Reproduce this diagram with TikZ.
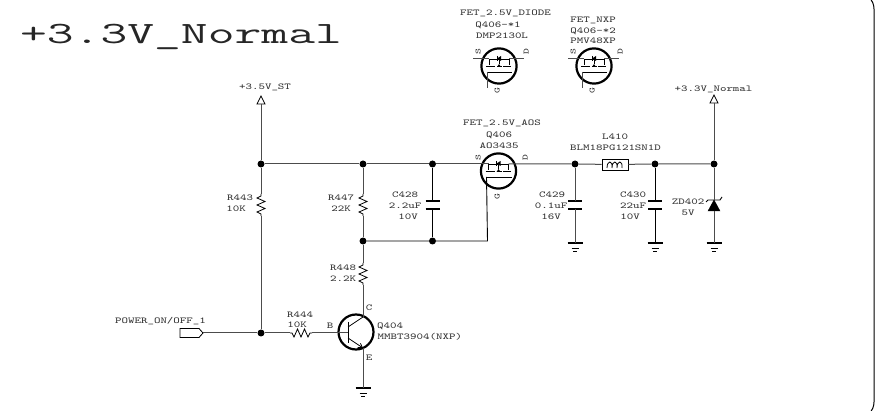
\documentclass[tikz,border=0pt]{standalone}
\usepackage{fontspec}
\newfontfamily\smallface[FakeStretch=1.375]{Latin Modern Mono}
\newfontfamily\titleface[FakeStretch=1.68]{Latin Modern Mono}
\usetikzlibrary{arrows.meta}
\definecolor{wire}{gray}{0.3}
\definecolor{txt}{gray}{0.2}
\tikzset{
  x=1pt,y=-1pt,
  wirel/.style={draw=wire,line width=1pt},
  wireb/.style={draw=black,line width=0.9pt},
  lbl/.style={font=\smallface\fontsize{9}{9}\selectfont,text=txt,inner sep=0pt,text height=5.4pt,text depth=0pt},
  pinl/.style={font=\smallface\fontsize{8}{8}\selectfont,text=txt,inner sep=0pt,text height=5pt,text depth=0pt},
  jct/.style={circle,fill=black,draw=none,inner sep=0pt,minimum size=7pt},
  plate/.style={line width=1.7pt,draw=black},
  resv/.pic={
    \draw[line width=0.8pt,black] (0,-11)--(0,-9)--(-4,-7)--(4,-3.5)--(-4,0)--(4,3.5)--(-4,7)--(0,9)--(0,11);
    \coordinate (-a) at (0,-11); \coordinate (-b) at (0,11);
  },
  resh/.pic={
    \draw[line width=0.8pt,black] (-11,0)--(-9,0)--(-7,4)--(-3.5,-4)--(0,4)--(3.5,-4)--(7,4)--(9,0)--(11,0);
    \coordinate (-a) at (-11,0); \coordinate (-b) at (11,0);
  },
  capv/.pic={
    \draw[plate] (-7,-4)--(7,-4);
    \draw[plate] (-7,4)--(7,4);
    \coordinate (-a) at (0,-4); \coordinate (-b) at (0,4);
  },
  gndp/.pic={
    \draw[line width=1.4pt,black] (-7.5,0)--(7.5,0);
    \draw[line width=0.7pt,black] (-3.5,5)--(3.5,5);
    \draw[line width=0.7pt,black] (-2,8)--(2,8);
    \coordinate (-t) at (0,0);
  },
  fetp/.pic={
    \draw[line width=2.2pt,black] (0,0) circle[radius=17.6];
    \draw[line width=0.7pt,black] (-10,-7)--(-10,-1) (-13,0)--(-4,0) (-2,0)--(3,0) (4,0)--(12,0) (10,-7)--(10,-1) (0,-7)--(0,-2);
    \draw[line width=0.8pt,black] (-12,6)--(13,6);
    \draw[line width=0.7pt,black] (-10,-7)--(10,-7);
    \fill[black] (0,-2)--(-2,1)--(2,1)--cycle;
    \fill[black] (2,-10)--(2,-5)--(-2,-7.5)--cycle;
    \draw[line width=0.9pt,black] (-2,-10)--(-2,-5);
    \coordinate (-s) at (-10,-7); \coordinate (-d) at (10,-7); \coordinate (-g) at (-12,6);
  },
  supplyp/.pic={
    \draw[line width=0.8pt,black,fill=white] (0,0)--(4,8)--(-4,8)--cycle;
    \coordinate (-b) at (0,8);
  }
}
\begin{document}
\begin{tikzpicture}
\useasboundingbox (0,0) rectangle (875,411);
\draw[black,line width=1pt,rounded corners=16pt] (-30,-7) rectangle (874,418);

% title
\node[font=\titleface\fontsize{31}{31}\selectfont,text=black!85,inner sep=0pt,anchor=base] (title) at (181,44) {+3.3V\_Normal};

% top alternates
\pic (qa) at (499,66) {fetp};
\pic (qb) at (594,66) {fetp};
\coordinate (qasl) at (473,59); \coordinate (qadr) at (524,59); \coordinate (qagb) at (487,88);
\coordinate (qbsl) at (568,59); \coordinate (qbdr) at (619,59); \coordinate (qbgb) at (582,88);
\draw[wirel] (qasl)--(qa-s) (qa-d)--(qadr) (qa-g)--(qagb);
\draw[wirel] (qbsl)--(qb-s) (qb-d)--(qbdr) (qb-g)--(qbgb);
\node[lbl] (t1) at (505.5,13) {FET\_2.5V\_DIODE};
\node[lbl] (t2) at (498,25) {Q406-*1};
\node[lbl] (t3) at (502,36) {DMP2130L};
\node[lbl] (t4) at (593,20) {FET\_NXP};
\node[lbl] (t5) at (593,30.5) {Q406-*2};
\node[lbl] (t6) at (593,41) {PMV48XP};
\node[pinl,rotate=90] (qas) at (478,52) {S};
\node[pinl,rotate=90] (qad) at (526,52) {D};
\node[pinl,rotate=90] (qag) at (497,91) {G};
\node[pinl,rotate=90] (qbs) at (573,52) {S};
\node[pinl,rotate=90] (qbd) at (620,52) {D};
\node[pinl,rotate=90] (qbg) at (592,91) {G};

% supply arrows
\pic (st) at (261,96) {supplyp};
\pic (nm) at (714,95) {supplyp};
\node[lbl] (tst) at (265,87) {+3.5V\_ST};
\node[lbl] (tnm) at (713.5,89) {+3.3V\_Normal};

% junctions
\node[jct] (j1) at (261,164) {};
\node[jct] (j2) at (363,164) {};
\node[jct] (j3) at (432.5,164) {};
\node[jct] (j4) at (575,164) {};
\node[jct] (j5) at (655,164) {};
\node[jct] (j6) at (714,164) {};
\node[jct] (j7) at (363,241) {};
\node[jct] (j8) at (432.5,241) {};
\node[jct] (j9) at (261,333) {};

% main FET
\pic (q406) at (498.5,171) {fetp};
\node[lbl] (t7) at (502,123) {FET\_2.5V\_AOS};
\node[lbl] (t8) at (499,135) {Q406};
\node[lbl] (t9) at (499,146) {AO3435};
\node[pinl,rotate=90] (qs) at (478,158) {S};
\node[pinl,rotate=90] (qd) at (525,158) {D};
\node[pinl,rotate=90] (qg) at (497,197) {G};
\coordinate (gc) at (487.5,241);

% resistors
\pic (r443) at (261,205) {resv};
\pic (r447) at (363,205) {resv};
\pic (r448) at (363,274) {resv};
\pic (r444) at (301,333) {resh};
\node[lbl] (t10) at (240,198) {R443};
\node[lbl] (t11) at (236,209) {10K};
\node[lbl] (t12) at (341,198) {R447};
\node[lbl] (t13) at (341,209) {22K};
\node[lbl] (t14) at (343,268) {R448};
\node[lbl] (t15) at (343,279) {2.2K};
\node[lbl] (t16) at (300,315) {R444};
\node[lbl] (t17) at (297,325) {10K};

% caps
\pic (c428) at (432.5,205) {capv};
\pic (c429) at (575,205) {capv};
\pic (c430) at (655,205) {capv};
\node[lbl] (t18) at (405,195) {C428};
\node[lbl] (t19) at (405,206) {2.2uF};
\node[lbl] (t20) at (408,217) {10V};
\node[lbl] (t21) at (552,195) {C429};
\node[lbl] (t22) at (551,206) {0.1uF};
\node[lbl] (t23) at (551,217) {16V};
\node[lbl] (t24) at (633,195) {C430};
\node[lbl] (t25) at (633,206) {22uF};
\node[lbl] (t26) at (630,217) {10V};

% inductor
\node[draw=black,line width=0.8pt,minimum width=26pt,minimum height=11pt,inner sep=0pt] (l410) at (615,164.5) {};
\draw[line width=0.8pt,black] (607,168) .. controls (607,160) and (613,160) .. (612,168) .. controls (612,160) and (618,160) .. (617,168) .. controls (617,160) and (623,160) .. (622,168);
\node[lbl] (t27) at (615,137) {L410};
\node[lbl] (t28) at (615.5,148) {BLM18PG121SN1D};

% zener
\coordinate (zk) at (714,200);
\coordinate (za) at (714,211);
\draw[fill=black,draw=black] (zk)--(720,211)--(708,211)--cycle;
\draw[line width=0.9pt,black] (706,202)--(708,200)--(720,200)--(722,197);
\node[lbl] (t29) at (688,202) {ZD402};
\node[lbl] (t30) at (688,213) {5V};

% grounds
\pic (g1) at (575,243) {gndp};
\pic (g2) at (655,243) {gndp};
\pic (g3) at (714,243) {gndp};
\pic (g4) at (363,388) {gndp};

% port
\coordinate (portr) at (203,333);
\draw[line width=0.8pt,black,fill=white] (180,328.5)--(199,328.5)--(portr)--(199,337.5)--(180,337.5)--cycle;
\node[lbl] (t31) at (160.5,321) {POWER\_ON/OFF\_1};

% transistor
\draw[line width=2.2pt,black] (356,332) circle[radius=17.5];
\coordinate (qb1) at (348,333);
\coordinate (qc1) at (363,317);
\coordinate (qc2) at (348,327);
\coordinate (qe1) at (363,348);
\coordinate (qe2) at (348,338);
\draw[line width=0.8pt,black] (348,322)--(348,343);
\draw[line width=0.8pt,black] (qc2)--(qc1);
\draw[line width=0.8pt,black,-{Straight Barb[length=4pt,width=5pt]}] (qe2)--(qe1);
\node[lbl] (t32) at (330,326) {B};
\node[lbl] (t33) at (369,308) {C};
\node[lbl] (t34) at (369,358) {E};
\node[lbl] (t35) at (390,326) {Q404};
\node[lbl,anchor=west] (t36) at (377.5,337) {MMBT3904(NXP)};

% connectors
\draw[wirel] (st-b)--(j1)--(j2)--(j3)--(q406-s);
\draw[wirel] (q406-d)--(j4)--(l410);
\draw[wirel] (l410)--(j5)--(j6);
\draw[wirel] (nm-b)--(j6)--(zk);
\draw[wirel] (za)--(g3-t);
\draw[wirel] (j1)--(r443-a) (r443-b)--(j9);
\draw[wirel] (j2)--(r447-a) (r447-b)--(j7)--(r448-a);
\draw[wirel] (r448-b)--(qc1) (qe1)--(g4-t);
\draw[wireb] (j7)--(j8)--(gc)--(q406-g);
\draw[wireb] (j3)--(c428-a) (c428-b)--(j8);
\draw[wirel] (j4)--(c429-a) (c429-b)--(g1-t);
\draw[wireb] (j5)--(c430-a) (c430-b)--(g2-t);
\draw[wirel] (portr)--(j9)--(r444-a);
\draw[wirel] (r444-b)--(qb1);
\end{tikzpicture}
\end{document}
